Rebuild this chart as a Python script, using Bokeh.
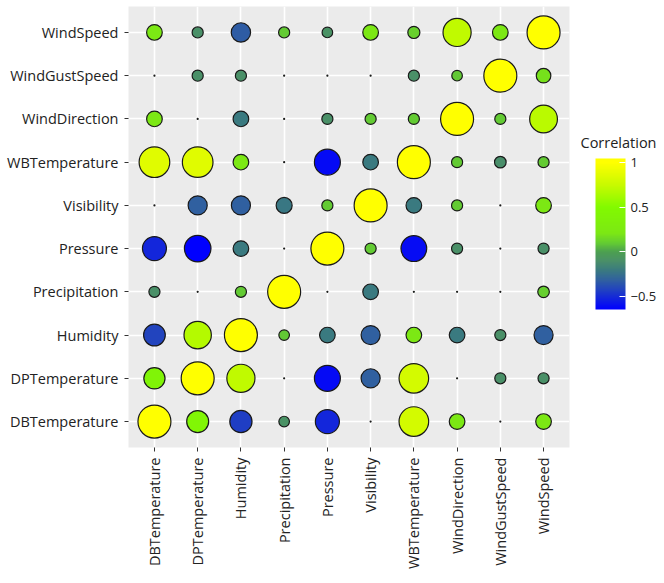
import numpy as np
from bokeh.plotting import figure
from bokeh.models import (FactorRange, ColumnDataSource, LinearColorMapper, ColorBar,
                          FixedTicker)
from bokeh.transform import transform
from bokeh.embed import file_html
from bokeh.resources import INLINE

# ---------------- data ----------------
variables = ["DBTemperature", "DPTemperature", "Humidity", "Precipitation", "Pressure",
             "Visibility", "WBTemperature", "WindDirection", "WindGustSpeed", "WindSpeed"]

# each list: correlations of the row variable (y) with the column variables (x, in order above)
corr_DBTemperature = [1.00, 0.43, -0.44, -0.09, -0.52, 0.00, 0.80, 0.21, 0.00, 0.21]
corr_DPTemperature = [0.40, 1.00, 0.72, 0.00, -0.61, -0.32, 0.80, 0.00, -0.10, -0.10]
corr_Humidity = [-0.42, 0.68, 1.00, 0.09, -0.21, -0.32, 0.21, -0.21, -0.10, -0.32]
corr_Precipitation = [-0.10, 0.00, 0.10, 1.00, 0.00, -0.21, 0.00, 0.00, 0.00, 0.11]
corr_Pressure = [-0.52, -0.64, -0.21, 0.00, 1.00, 0.10, -0.60, -0.10, 0.00, -0.10]
corr_Visibility = [0.00, -0.32, -0.32, -0.22, 0.10, 1.00, -0.21, 0.10, 0.00, 0.21]
corr_WBTemperature = [0.86, 0.86, 0.21, 0.00, -0.61, -0.21, 1.00, 0.10, -0.11, 0.10]
corr_WindDirection = [0.21, 0.00, -0.21, 0.00, -0.10, 0.10, 0.10, 1.00, 0.10, 0.70]
corr_WindGustSpeed = [0.00, -0.10, -0.10, 0.00, 0.00, 0.00, -0.10, 0.09, 1.00, 0.18]
corr_WindSpeed = [0.21, -0.10, -0.33, 0.10, -0.09, 0.21, 0.12, 0.72, 0.21, 1.00]

rows = [corr_DBTemperature, corr_DPTemperature, corr_Humidity, corr_Precipitation,
        corr_Pressure, corr_Visibility, corr_WBTemperature, corr_WindDirection,
        corr_WindGustSpeed, corr_WindSpeed]

colorbar_ticks = [-0.5, 0, 0.5, 1]
colorbar_labels = {-0.5: "\u22120.5", 0: "0", 0.5: "0.5", 1: "1"}
colorbar_low, colorbar_high = -0.646, 1.045

# ---------------- build source ----------------
xs, ys, rs = [], [], []
for yv, row in zip(variables, rows):
    for xv, r in zip(variables, row):
        xs.append(xv)
        ys.append(yv)
        rs.append(r)
rs = np.array(rs)
sizes = 1 + 32 * np.sqrt(np.abs(rs))
src = ColumnDataSource(dict(x=xs, y=ys, r=rs, size=sizes))

# ---------------- palette ----------------
anchors = [(-0.646, (0, 0, 255)), (-0.42, (34, 68, 190)), (-0.32, (48, 96, 160)),
           (-0.21, (58, 122, 128)), (-0.10, (74, 144, 104)), (0.0, (76, 160, 80)),
           (0.10, (100, 204, 50)), (0.21, (124, 232, 20)), (0.5, (130, 250, 0)),
           (0.75, (200, 250, 0)), (1.0, (255, 255, 0)), (1.045, (255, 255, 0))]
av = np.array([a[0] for a in anchors])
ac = np.array([a[1] for a in anchors], dtype=float)
grid = np.linspace(colorbar_low, colorbar_high, 256)
palette = []
for g in grid:
    c = [int(round(np.interp(g, av, ac[:, k]))) for k in range(3)]
    palette.append("#%02x%02x%02x" % tuple(c))
mapper = LinearColorMapper(palette=palette, low=colorbar_low, high=colorbar_high)

# ---------------- figure ----------------
FONT = "Open Sans"
p = figure(x_range=FactorRange(factors=variables, range_padding=0.1, range_padding_units="absolute"),
           y_range=FactorRange(factors=variables, range_padding=0.1, range_padding_units="absolute"),
           width=660, height=580, output_backend="svg", toolbar_location=None,
           min_border_left=128, min_border_right=91, min_border_top=6, min_border_bottom=133)
p.background_fill_color = "#EBEBEB"
p.border_fill_color = "white"
p.outline_line_color = None
p.grid.grid_line_color = "white"
p.grid.grid_line_width = 1.6

for ax in (p.xaxis, p.yaxis):
    ax.axis_line_color = None
    ax.major_tick_line_color = "#333333"
    ax.major_tick_out = 4
    ax.major_tick_in = 0
    ax.major_label_text_font = FONT
    ax.major_label_text_font_size = "14.5px"
    ax.major_label_text_color = "#222222"
    ax.major_label_standoff = 6
p.xaxis.major_label_orientation = np.pi / 2

p.scatter(x="x", y="y", size="size", source=src, marker="circle",
          fill_color=transform("r", mapper), line_color="#1a1a1a", line_width=1.2)

cb = ColorBar(color_mapper=mapper, ticker=FixedTicker(ticks=colorbar_ticks),
              major_label_overrides=colorbar_labels, orientation="vertical",
              width=30, height=151, location=(467, 138), padding=0,
              bar_line_color=None, major_tick_line_color="white", major_tick_in=6,
              major_tick_out=0, minor_tick_line_color=None,
              label_standoff=5, major_label_text_font=FONT,
              major_label_text_font_size="13px", major_label_text_color="#222222",
              background_fill_alpha=0, border_line_color=None)
p.add_layout(cb)

# legend title (drawn by a transparent colour bar so that it can sit outside the panel)
title_cb = ColorBar(color_mapper=mapper, ticker=FixedTicker(ticks=[]), width=1, height=1,
                    orientation="horizontal", padding=0, title="Correlation",
                    title_text_font=FONT, title_text_font_size="14.5px",
                    title_text_color="#222222", title_text_font_style="normal",
                    title_standoff=0, scale_alpha=0, bar_line_color=None,
                    major_tick_line_color=None, minor_tick_line_color=None,
                    major_label_text_alpha=0, background_fill_alpha=0,
                    border_line_color=None, location=(452, 295))
p.add_layout(title_cb)

open("out.html", "w").write(file_html(p, INLINE))
